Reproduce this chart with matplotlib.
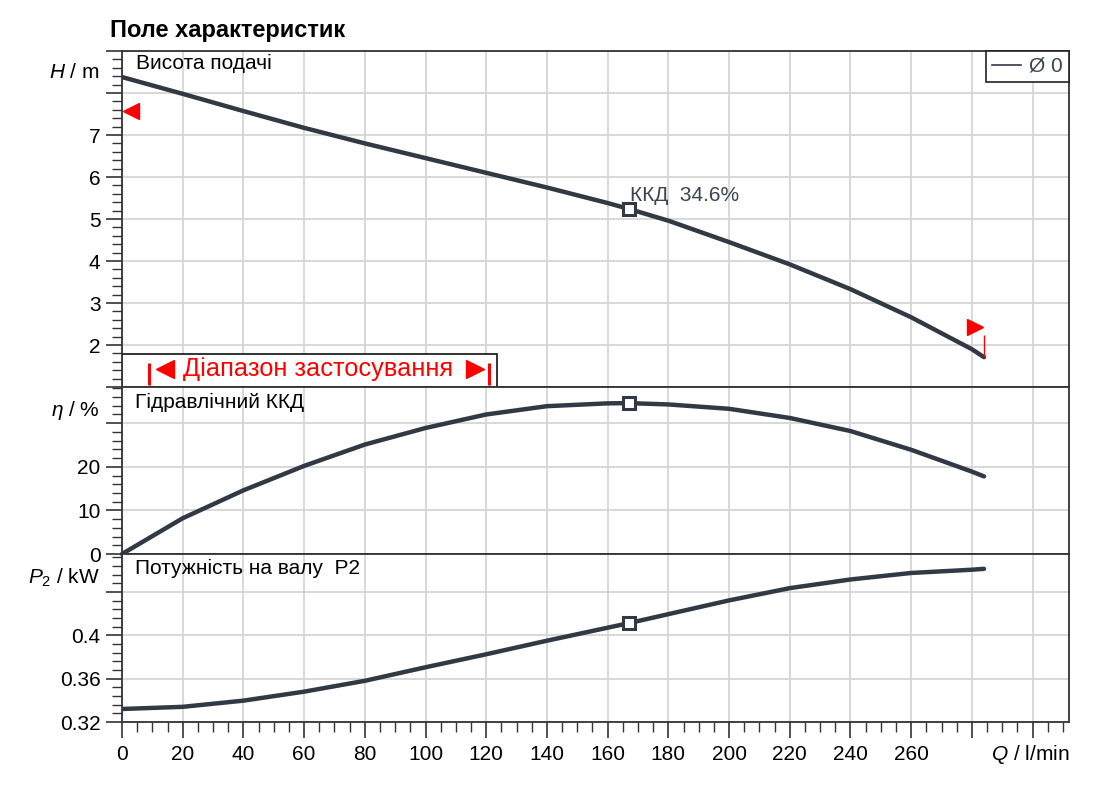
import matplotlib
matplotlib.use("Agg")
import matplotlib.pyplot as plt
import matplotlib.ticker as mticker
import matplotlib.transforms as mtransforms
from matplotlib.lines import Line2D
from matplotlib.patches import Rectangle

plt.rcParams["font.family"] = ["Liberation Sans", "DejaVu Sans"]
plt.rcParams["mathtext.fontset"] = "custom"
plt.rcParams["mathtext.rm"] = "Liberation Sans"
plt.rcParams["mathtext.it"] = "Liberation Sans:italic"

# flow rate points (l/min)
q = [0, 20, 40, 60, 80, 100, 120, 140, 160, 167, 180, 200, 220, 240, 260, 280, 284]
head = [8.38, 7.98, 7.57, 7.17, 6.80, 6.45, 6.10, 5.75, 5.38, 5.24, 4.96, 4.45,
        3.92, 3.33, 2.66, 1.90, 1.71]
eta = [0, 8.2, 14.6, 20.2, 25.1, 28.9, 32.0, 33.9, 34.55, 34.6, 34.3, 33.3,
       31.2, 28.2, 23.9, 18.9, 17.8]
power = [0.332, 0.334, 0.3397, 0.348, 0.358, 0.3705, 0.3825, 0.395, 0.407, 0.4112,
         0.4195, 0.4322, 0.4435, 0.4515, 0.4575, 0.4605, 0.4613]

bep_q = 167
bep_head = 5.24
bep_eta = 34.6
bep_power = 0.4112
bep_label = "ККД  34.6%"

range_q = [9, 121]
range_label = "Діапазон застосування"
shutoff_mark = (3, 7.58)
max_mark = (281, 2.44)
max_line_h = [1.71, 2.24]

LINE = "#313a44"
GRID = "#d6d6d6"
SPINE = "#333333"
RED = "#ff0000"
FS = 15

fig = plt.figure(figsize=(11.16, 8.10), dpi=100)
L, W = 122 / 1116, 947 / 1116
ax_h = fig.add_axes([L, 1 - 387 / 810, W, 336 / 810])
ax_e = fig.add_axes([L, 1 - 554 / 810, W, 167 / 810], sharex=ax_h)
ax_p = fig.add_axes([L, 1 - 722 / 810, W, 168 / 810], sharex=ax_h)


def style(ax):
    ax.grid(True, which="major", color=GRID, lw=1.3, zorder=0)
    ax.set_axisbelow(True)
    for s in ax.spines.values():
        s.set_color(SPINE)
        s.set_linewidth(1.3)
    ax.tick_params(axis="both", which="major", direction="out", length=11.5,
                   width=1.2, color=SPINE, labelsize=FS, pad=4)
    ax.tick_params(axis="both", which="minor", direction="out", length=7,
                   width=1.0, color=SPINE)


for ax in (ax_h, ax_e, ax_p):
    style(ax)

ax_h.set_xlim(0, 312)
ax_h.xaxis.set_major_locator(mticker.MultipleLocator(20))
ax_h.xaxis.set_minor_locator(mticker.MultipleLocator(5))
for ax in (ax_h, ax_e):
    ax.tick_params(axis="x", which="both", bottom=False, labelbottom=False)
ax_p.xaxis.set_major_formatter(
    mticker.FuncFormatter(lambda v, _: f"{v:.0f}" if v <= 260 else ""))
ax_p.tick_params(axis="x", which="major", pad=5)

# head panel
ax_h.set_ylim(1, 9)
ax_h.yaxis.set_major_locator(mticker.MultipleLocator(1))
ax_h.yaxis.set_minor_locator(mticker.MultipleLocator(0.2))
ax_h.yaxis.set_major_formatter(
    mticker.FuncFormatter(lambda v, _: f"{v:.0f}" if 2 <= v <= 7 else ""))
ax_h.plot(q, head, color=LINE, lw=3.2, solid_capstyle="round",
          solid_joinstyle="round", zorder=4)
ax_h.plot(bep_q, bep_head, marker="s", ms=8, mfc="white", mec=LINE, mew=2.2, zorder=5)
ax_h.annotate(bep_label, (bep_q, bep_head), xytext=(1, 10), textcoords="offset points",
              ha="left", va="center", fontsize=FS, color="#3b4450")
ax_h.plot(*shutoff_mark, marker="<", ms=11, color=RED, clip_on=False, zorder=5)
ax_h.plot(*max_mark, marker=">", ms=11, color=RED, zorder=5)
ax_h.vlines(q[-1], max_line_h[0], max_line_h[1], color=RED, lw=1, zorder=5)

# application range box
blend = mtransforms.blended_transform_factory(ax_h.transData, ax_h.transAxes)
ax_h.add_patch(Rectangle((0, 0), range_q[1] + 2.5, 33 / 336, transform=blend,
                         facecolor="white", edgecolor="#222222", lw=1.3, zorder=3))
ax_h.vlines(range_q, 0.006, 0.0714, transform=blend, color=RED, lw=2.2, zorder=4)
ax_h.plot([range_q[0] + 5.2], [0.054], transform=blend, marker="<", ms=13,
          color=RED, zorder=4)
ax_h.plot([range_q[1] - 4.6], [0.054], transform=blend, marker=">", ms=13,
          color=RED, zorder=4)
ax_h.text(sum(range_q) / 2 - 0.4, 0.054, range_label, transform=blend, ha="center",
          va="center", fontsize=18.3, color=RED, zorder=4)

leg = ax_h.legend(handles=[Line2D([], [], color=LINE, lw=1.2)], labels=["Ø 0"],
                  loc="upper right", borderaxespad=0, fancybox=False, framealpha=1,
                  edgecolor="#222222", handlelength=1.4, handletextpad=0.4,
                  borderpad=0.28, fontsize=FS)
leg.get_frame().set_linewidth(1.2)
for t in leg.get_texts():
    t.set_color("#3b4450")

# efficiency panel
ax_e.set_ylim(0, 38.3)
ax_e.yaxis.set_major_locator(mticker.MultipleLocator(10))
ax_e.yaxis.set_minor_locator(mticker.MultipleLocator(2))
ax_e.yaxis.set_major_formatter(
    mticker.FuncFormatter(lambda v, _: f"{v:.0f}" if v <= 20 else ""))
ax_e.plot(q, eta, color=LINE, lw=3.2, solid_capstyle="round",
          solid_joinstyle="round", zorder=4, clip_on=False)
ax_e.plot(bep_q, bep_eta, marker="s", ms=8, mfc="white", mec=LINE, mew=2.2, zorder=5)

# power panel
ax_p.set_ylim(0.32, 0.475)
ax_p.yaxis.set_major_locator(mticker.MultipleLocator(0.04))
ax_p.yaxis.set_minor_locator(mticker.MultipleLocator(0.008))
ax_p.yaxis.set_major_formatter(
    mticker.FuncFormatter(lambda v, _: f"{round(v, 2):g}" if v <= 0.41 else ""))
ax_p.plot(q, power, color=LINE, lw=3.2, solid_capstyle="round",
          solid_joinstyle="round", zorder=4)
ax_p.plot(bep_q, bep_power, marker="s", ms=8, mfc="white", mec=LINE, mew=2.2, zorder=5)

# texts
fig.text(110 / 1116, 1 - 30 / 810, "Поле характеристик", fontsize=17,
         fontweight="bold", va="center", ha="left")
fig.text(136 / 1116, 1 - 63 / 810, "Висота подачі", fontsize=FS, va="center")
fig.text(135 / 1116, 1 - 402 / 810, "Гідравлічний ККД", fontsize=FS, va="center")
fig.text(135 / 1116, 1 - 568 / 810, "Потужність на валу  P2", fontsize=FS, va="center")

fig.text(100 / 1116, 1 - 73 / 810, r"$H$ / m", fontsize=FS, ha="right", va="center")
fig.text(100 / 1116, 1 - 410 / 810, r"$\eta$ / %", fontsize=FS, ha="right", va="center")
fig.text(100 / 1116, 1 - 578 / 810, r"$P_{2}$ / kW", fontsize=FS, ha="right", va="center")
fig.text(1069 / 1116, 1 - 755 / 810, r"$Q$ / l/min", fontsize=FS, ha="right", va="center")

fig.savefig("out.png", dpi=100, facecolor="white")
